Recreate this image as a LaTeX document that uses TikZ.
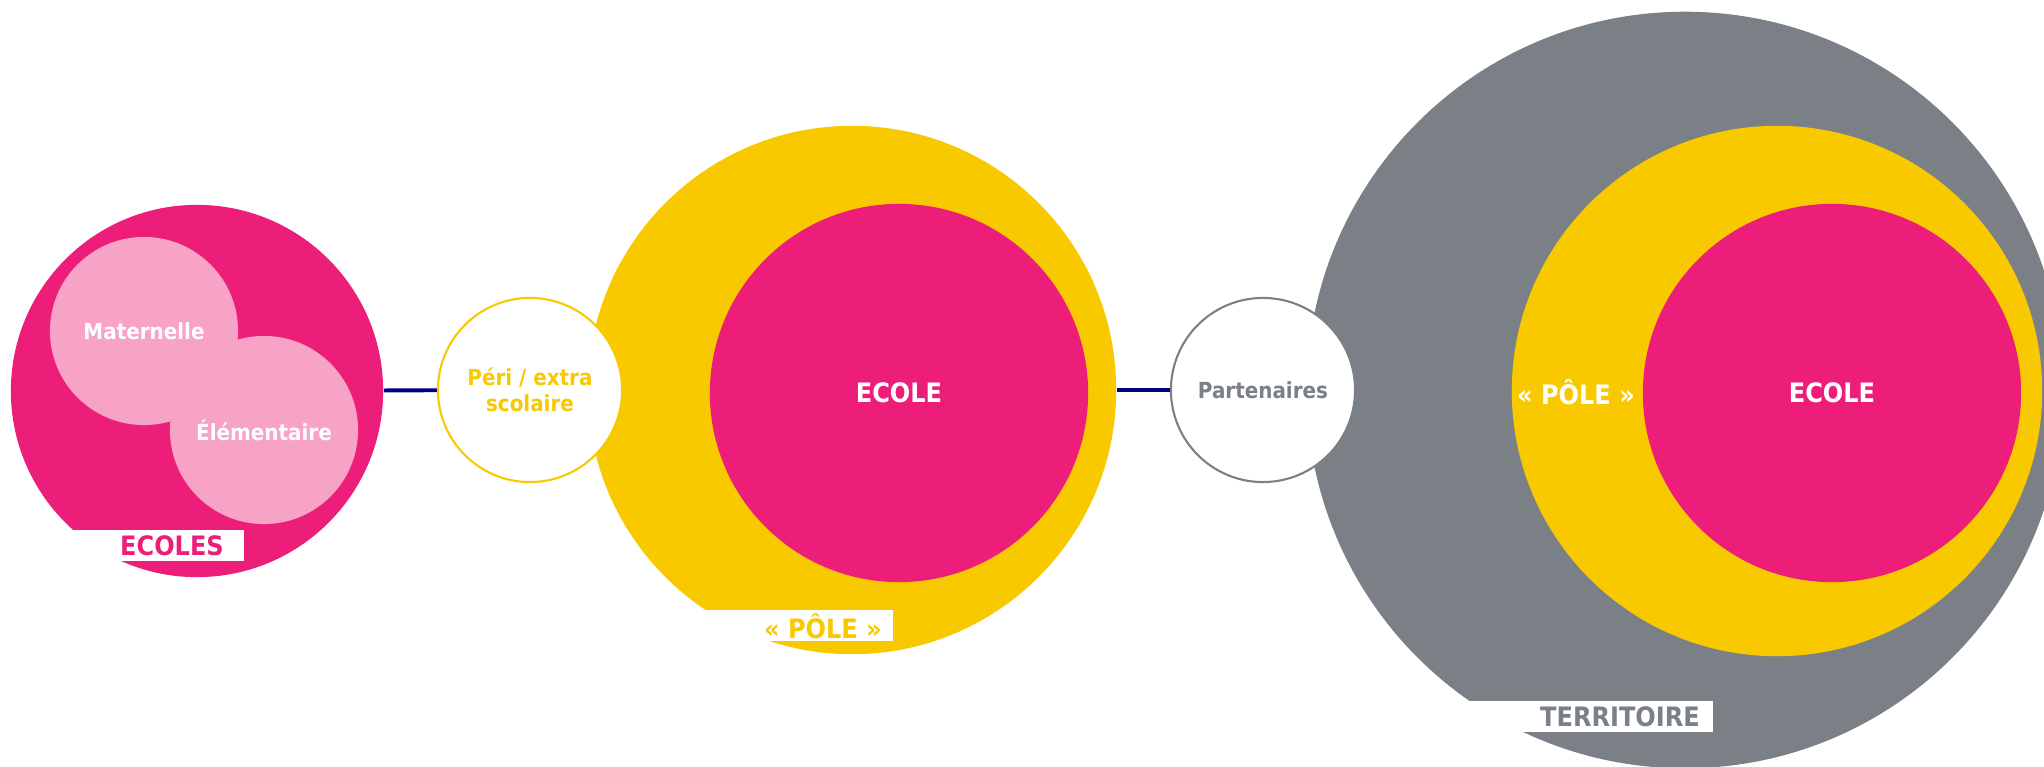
\documentclass[tikz,border=0pt]{standalone}
\usepackage{fontspec}
\setmainfont{DejaVu Sans Condensed}
\usepackage{tikz}
\usetikzlibrary{positioning}
\definecolor{rose}{HTML}{ED1E79}
\definecolor{rosepale}{HTML}{F7A3C6}
\definecolor{jaune}{HTML}{F9C900}
\definecolor{gris}{HTML}{7B8087}
\definecolor{marine}{HTML}{000080}

\begin{document}
\begin{tikzpicture}[x=0.01cm, y=-0.01cm,
  disc/.style={circle, inner sep=0, minimum size=#1*0.02cm},
  petit/.style={font=\bfseries\fontsize{6.3}{7.4}\selectfont, align=center},
  grand/.style={font=\bfseries\fontsize{7.6}{8.8}\selectfont},
  lien/.style={draw=marine, line width=1.1pt}]
\useasboundingbox (0,0) rectangle (2044,767);
\clip (0,0) rectangle (2044,767);
% ecoles
\node[disc=186, fill=rose] (ecoles) at (197,391) {};
\node[disc=94, fill=rosepale] (mat) at (144,331) {};
\node[disc=94, fill=rosepale, petit, text=white] (elem) at (264,430) {\'El\'ementaire};
\node[petit, text=white] (matlbl) at (144,331) {Maternelle};
\fill[white] (60,530) rectangle (244,561);
\node[grand, text=rose] (ecoleslbl) at (172,546) {ECOLES};
% pole
\node[disc=264, fill=jaune] (pole) at (852,390) {};
\node[disc=189, fill=rose, grand, text=white] (ecole) at (899,393) {ECOLE};
\fill[white] (686,610) rectangle (893,641);
\node[grand, text=jaune] (polelbl) at (823,626) {«~PÔLE~»};
% territoire
\node[disc=378, fill=gris] (terr) at (1685,390) {};
\node[disc=265, fill=jaune] (pole2) at (1777,391) {};
\node[disc=189, fill=rose, grand, text=white] (ecole2) at (1832,393) {ECOLE};
\node[grand, text=white] (pole2lbl) at (1576,392) {«~PÔLE~»};
\fill[white] (1460,701) rectangle (1713,732);
\node[grand, text=gris] (terrlbl) at (1620,717) {TERRITOIRE};
% petits cercles
\node[disc=92, fill=white, draw=jaune, line width=0.6pt, petit, text=jaune] (peri) at (530,390) {P\'eri / extra\\scolaire};
\node[disc=92, fill=white, draw=gris, line width=0.6pt, petit, text=gris] (part) at (1263,390) {Partenaires};
\draw[lien] (ecoles) -- (peri);
\draw[lien] (pole) -- (part);
\end{tikzpicture}
\end{document}
